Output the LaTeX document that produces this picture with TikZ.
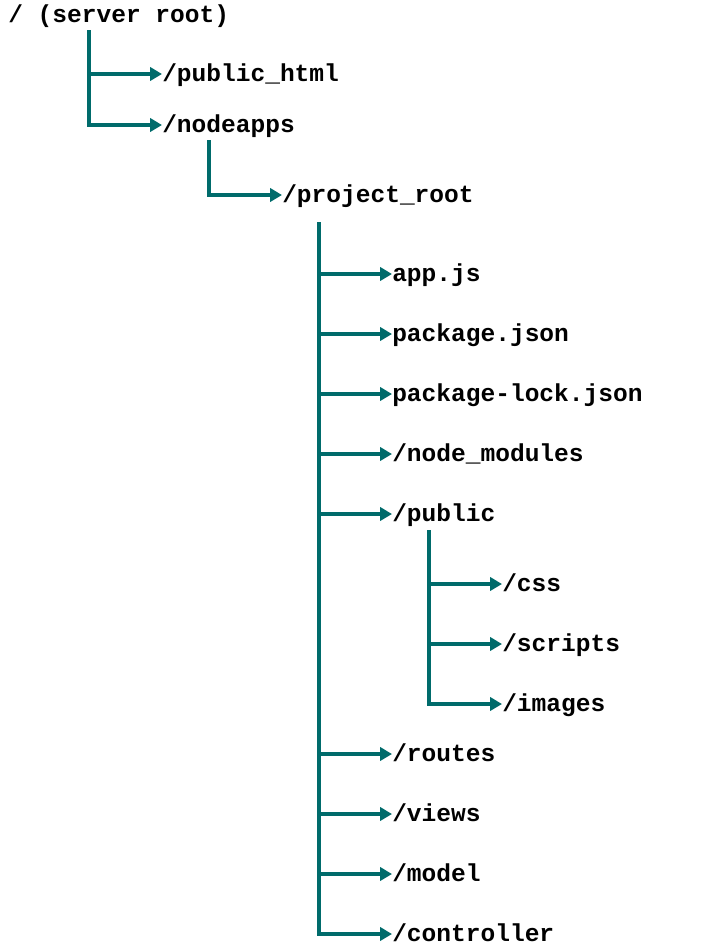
\documentclass[tikz,border=0pt]{standalone}
\usepackage{fontspec}
\setmainfont{Liberation Mono}
\usetikzlibrary{arrows.meta, positioning}
\definecolor{treeteal}{HTML}{006B6B}

\begin{document}
\begin{tikzpicture}[x=0.75pt, y=-0.75pt,
      dir/.style={anchor=west, inner sep=0pt, font=\fontsize{18.4}{22}\selectfont\bfseries,
                  text height=0.72em, text depth=0.22em, yshift=-3pt},
      branch/.style={line width=2.8pt, treeteal},
      arr/.style={branch, -{Triangle[length=9pt, width=10pt]}}
    ]
      \useasboundingbox (0,0) rectangle (719,950);

      % top levels
      \node[dir] (root) at (8,15) {/ (server root)};
      \node[dir] (pubhtml) at (162,74) {/public\_html};
      \node[dir] (nodeapps) at (162,125) {/nodeapps};
      \node[dir] (proot) at (282,195) {/project\_root};

      \coordinate (r0) at (89,30);
      \draw[branch] (r0) -- (89,125);
      \draw[arr] (r0) |- ([yshift=3pt]pubhtml.west);
      \draw[arr] (r0) |- ([yshift=3pt]nodeapps.west);

      \coordinate (n0) at (209,140);
      \draw[arr] (n0) |- ([yshift=3pt]proot.west);

      % project root children
      \foreach \name/\txt/\y in {app/{app.js}/274, pkg/{package.json}/334,
          lock/{package-lock.json}/394, mods/{/node\_modules}/454, pub/{/public}/514,
          routes/{/routes}/754, views/{/views}/814, model/{/model}/874,
          ctrl/{/controller}/934}
        \node[dir] (\name) at (392,\y) {\txt};

      \coordinate (p0) at (319,222);
      \draw[branch] (p0) -- (319,934);
      \foreach \name in {app, pkg, lock, mods, pub, routes, views, model, ctrl}
        \draw[arr] (p0) |- ([yshift=3pt]\name.west);

      % public children
      \foreach \name/\txt/\y in {css/{/css}/584, scripts/{/scripts}/644, images/{/images}/704}
        \node[dir] (\name) at (502,\y) {\txt};

      \coordinate (u0) at (429,530);
      \draw[branch] (u0) -- (429,704);
      \foreach \name in {css, scripts, images}
        \draw[arr] (u0) |- ([yshift=3pt]\name.west);
    \end{tikzpicture}
\end{document}
